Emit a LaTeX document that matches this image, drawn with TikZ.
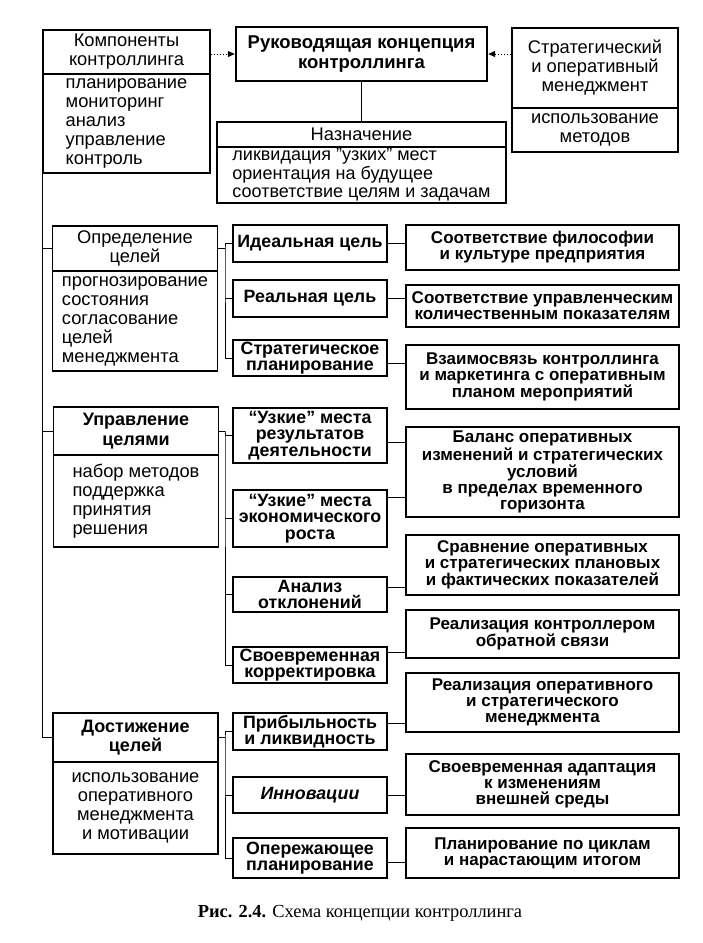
\documentclass[tikz,border=0pt]{standalone}
\usepackage{fontspec}
\setmainfont{Liberation Sans}
\newfontfamily\capfont{Liberation Serif}
\usetikzlibrary{arrows.meta,calc}

\begin{document}
\begin{tikzpicture}[x=1pt, y=-1pt,
    box/.style={rectangle, draw=black, line width=1.3pt, inner sep=1pt,
                align=center},
    plain/.style={font=\fontsize{18.3}{19}\selectfont},
    heavy/.style={font=\bfseries\fontsize{18}{19.5}\selectfont},
    leftb/.style={box, minimum width=165},
    midb/.style={box, minimum width=154,
                 font=\bfseries\fontsize{17.8}{16.5}\selectfont},
    resb/.style={box, minimum width=273,
                 font=\bfseries\fontsize{17}{16}\selectfont},
    link/.style={line width=1pt},
    darr/.style={line width=1pt, dotted, -{Triangle[length=7pt, width=6pt]}},
]
\useasboundingbox (0,0) rectangle (702,943);

% concept at the top
\node[box, line width=2.4pt, minimum width=251, minimum height=54,
      font=\bfseries\fontsize{18.5}{20}\selectfont] (main) at (361.5,54)
      {Руководящая концепция\\контроллинга};

% components
\node[box, plain, minimum width=167, minimum height=44] (komph) at (126.5,52)
      {Компоненты\\контроллинга};
\node[box, plain, align=left, inner sep=0pt, minimum width=167, minimum height=99]
      (kompb) at (126.5,123.5) {планирование\\мониторинг\\анализ\\управление\\контроль};

% management
\node[box, plain, minimum width=166, minimum height=80] (strath) at (595,68)
      {Стратегический\\и оперативный\\менеджмент};
\node[box, plain, minimum width=166, minimum height=44] (stratb) at (595,130)
      {использование\\методов};

% purpose
\node[box, plain, minimum width=289, minimum height=25] (naznh) at (361.5,134.5)
      {Назначение};
\node[box, plain, align=left, inner sep=0pt, minimum width=289, minimum height=56,
      font=\fontsize{18}{18.5}\selectfont] (naznb) at (361.5,175)
      {ликвидация "узких" мест\\ориентация на будущее\\соответствие целям и задачам};

\draw[darr] (komph.east |- main.west) -- (main.west);
\draw[darr] (strath.west |- main.east) -- (main.east);
\draw[link] (main.south) -- (naznh.north);

% goal setting
\node[leftb, plain, minimum height=45] (oprh) at (135,248.5) {Определение\\целей};
\node[leftb, plain, align=left, inner sep=0pt, minimum height=100] (oprb) at (135,321)
      {прогнозирование\\состояния\\согласование\\целей\\менеджмента};
\node[midb, minimum height=37] (ideal) at (310,243.5) {Идеальная цель};
\node[midb, minimum height=37] (real) at (310,298.5) {Реальная цель};
\node[midb, minimum height=36] (splan) at (310,358) {Стратегическое\\планирование};
\node[resb, minimum height=45] (filos) at (542.5,247.5)
      {Соответствие философии\\и культуре предприятия};
\node[resb, minimum height=42] (kolich) at (542.5,306)
      {Соответствие управленческим\\количественным показателям};
\node[resb, minimum height=64] (vzaim) at (542.5,377)
      {Взаимосвязь контроллинга\\и маркетинга с оперативным\\планом мероприятий};

\coordinate (br1) at (225,248.5);
\draw[link] (oprh.east) -- (br1);
\draw[link] (ideal.west) -| (br1) |- (splan.west);
\draw[link] (real.west) -- (real.west -| br1);
\draw[link] (ideal.east) -- (ideal.east -| filos.west);
\draw[link] (real.east) -- (real.east -| kolich.west);
\draw[link] ([yshift=-5]splan.east) -- ([yshift=-5]splan.east -| vzaim.west);

% goal management
\node[leftb, heavy, minimum height=48] (uprh) at (136,431) {Управление\\целями};
\node[leftb, plain, align=left, minimum height=92] (uprb) at (136,501)
      {набор методов\\поддержка\\принятия\\решения};
\node[midb, minimum height=55] (uzres) at (310,435.5)
      {``Узкие'' места\\результатов\\деятельности};
\node[midb, minimum height=57] (uzrost) at (310,518.5)
      {``Узкие'' места\\экономического\\роста};
\node[midb, minimum height=35] (otkl) at (310,594.5) {Анализ\\отклонений};
\node[midb, minimum height=36] (korr) at (310,665) {Своевременная\\корректировка};
\node[resb, minimum height=90] (balans) at (542.5,472)
      {Баланс оперативных\\изменений и стратегических\\условий\\в пределах временного\\горизонта};
\node[resb, minimum height=60] (sravn) at (542.5,565)
      {Сравнение оперативных\\и стратегических плановых\\и фактических показателей};
\node[resb, minimum height=48] (obrat) at (542.5,634)
      {Реализация контроллером\\обратной связи};

\coordinate (br2) at (225,431);
\draw[link] (uprh.east) -- (br2);
\draw[link] (uzres.west) -| (br2) |- (korr.west);
\draw[link] (uzrost.west) -- (uzrost.west -| br2);
\draw[link] (otkl.west) -- (otkl.west -| br2);
\draw[link] ([yshift=-7]uzres.east) -- ([yshift=-7]uzres.east -| balans.west);
\draw[link] ([yshift=21]uzrost.east) -- ([yshift=21]uzrost.east -| balans.west);
\draw[link] ([yshift=7]otkl.east) -- ([yshift=7]otkl.east -| sravn.west);
\draw[link] ([yshift=13]korr.east) -- ([yshift=13]korr.east -| obrat.west);

% goal achievement
\node[leftb, heavy, minimum height=49] (dosth) at (135.5,737.5) {Достижение\\целей};
\node[leftb, plain, minimum height=92] (dostb) at (135.5,808)
      {использование\\оперативного\\менеджмента\\и мотивации};
\node[midb, minimum height=37] (prib) at (310,731.5) {Прибыльность\\и ликвидность};
\node[midb, minimum height=36] (innov) at (310,795) {\itshape Инновации};
\node[midb, minimum height=40] (operez) at (310,858) {Опережающее\\планирование};
\node[resb, minimum height=59] (realiz) at (542.5,702.5)
      {Реализация оперативного\\и стратегического\\менеджмента};
\node[resb, minimum height=61] (adapt) at (542.5,784.5)
      {Своевременная адаптация\\к изменениям\\внешней среды};
\node[resb, minimum height=50] (cikl) at (542.5,853)
      {Планирование по циклам\\и нарастающим итогом};

\coordinate (br3) at (225,737.5);
\draw[link] (dosth.east) -- (br3);
\draw[link] (prib.west) -| (br3) |- (operez.west);
\draw[link] (innov.west) -- (innov.west -| br3);
\draw[link] ([yshift=8]prib.east) -- ([yshift=8]prib.east -| realiz.west);
\draw[link] (innov.east) -- (innov.east -| adapt.west);
\draw[link] ([yshift=-4]operez.east) -- ([yshift=-4]operez.east -| cikl.west);

% left spine
\draw[link] (kompb.south west) |- (dosth.west);
\draw[link] (oprh.west) -- (oprh.west -| kompb.south west);
\draw[link] (uprh.west) -- (uprh.west -| kompb.south west);

% caption
\node[font=\capfont\fontsize{18.4}{20}\selectfont] (cap) at (360,913)
      {\textbf{Рис. 2.4.} Схема концепции контроллинга};

\end{tikzpicture}
\end{document}
